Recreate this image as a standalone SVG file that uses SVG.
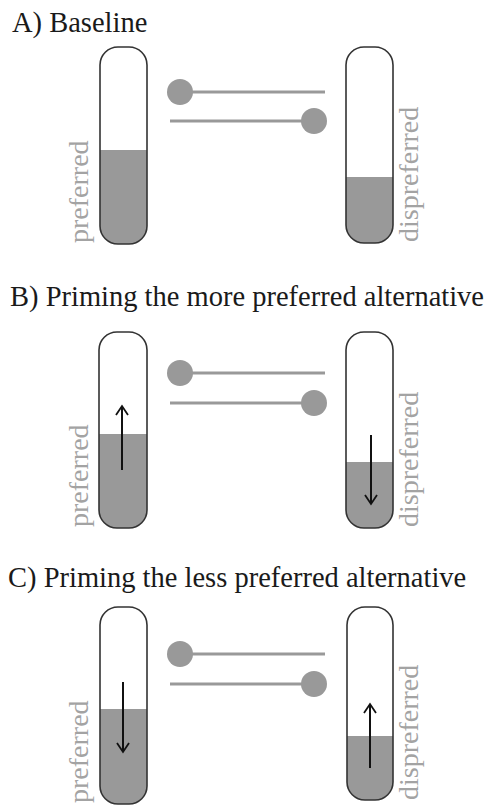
<svg xmlns="http://www.w3.org/2000/svg" width="490" height="806" viewBox="0 0 490 806">
<style>
.title{font-family:"Liberation Serif","Times New Roman",serif;font-size:28.5px;fill:#1a1a1a}
.lab{font-family:"Liberation Serif","Times New Roman",serif;font-size:28px;fill:#a3a3a3}
.tube{fill:none;stroke:#333;stroke-width:1.6}
.liq{fill:#999}
.wire{stroke:#999;stroke-width:3;fill:none}
.knob{fill:#999}
.arr{stroke:#111;stroke-width:2;fill:none;marker-end:url(#head)}
</style>
<defs>
<marker id="head" viewBox="0 0 12 14" refX="10" refY="7" markerWidth="12" markerHeight="14" markerUnits="userSpaceOnUse" orient="auto">
<path d="M1,1 L10,7 L1,13" fill="none" stroke="#111" stroke-width="1.8"/>
</marker>
<clipPath id="cA1"><rect x="100" y="47" width="47" height="197" rx="18"/></clipPath>
<clipPath id="cA2"><rect x="346" y="47" width="47" height="196" rx="18"/></clipPath>
<clipPath id="cB1"><rect x="99" y="332" width="48" height="196" rx="18"/></clipPath>
<clipPath id="cB2"><rect x="346" y="332" width="47" height="196" rx="18"/></clipPath>
<clipPath id="cC1"><rect x="100" y="607" width="47" height="197" rx="18"/></clipPath>
<clipPath id="cC2"><rect x="347" y="607" width="46" height="193" rx="18"/></clipPath>
</defs>
<rect width="490" height="806" fill="#fff"/>

<g id="panelA">
<text class="title" x="12" y="32">A) Baseline</text>
<g id="A-preferred">
<rect class="liq" x="100" y="150" width="47" height="94" clip-path="url(#cA1)"/>
<rect class="tube" x="100" y="47" width="47" height="197" rx="18"/>
<text class="lab" transform="translate(88,243) rotate(-90)">preferred</text>
</g>
<g id="A-dispreferred">
<rect class="liq" x="346" y="177" width="47" height="66" clip-path="url(#cA2)"/>
<rect class="tube" x="346" y="47" width="47" height="196" rx="18"/>
<text class="lab" transform="translate(418,242) rotate(-90)">dispreferred</text>
</g>
</g>

<g id="panelB">
<text class="title" x="10" y="306">B) Priming the more preferred alternative</text>
<g id="B-preferred">
<rect class="liq" x="99" y="434" width="48" height="94" clip-path="url(#cB1)"/>
<rect class="tube" x="99" y="332" width="48" height="196" rx="18"/>
<text class="lab" transform="translate(88,527) rotate(-90)">preferred</text>
</g>
<g id="B-dispreferred">
<rect class="liq" x="346" y="462" width="47" height="66" clip-path="url(#cB2)"/>
<rect class="tube" x="346" y="332" width="47" height="196" rx="18"/>
<text class="lab" transform="translate(418,527) rotate(-90)">dispreferred</text>
</g>
</g>

<g id="panelC">
<text class="title" x="8" y="587">C) Priming the less preferred alternative</text>
<g id="C-preferred">
<rect class="liq" x="100" y="709" width="47" height="95" clip-path="url(#cC1)"/>
<rect class="tube" x="100" y="607" width="47" height="197" rx="18"/>
<text class="lab" transform="translate(88,803) rotate(-90)">preferred</text>
</g>
<g id="C-dispreferred">
<rect class="liq" x="347" y="736" width="46" height="64" clip-path="url(#cC2)"/>
<rect class="tube" x="347" y="607" width="46" height="193" rx="18"/>
<text class="lab" transform="translate(418,800) rotate(-90)">dispreferred</text>
</g>
</g>

<g id="connectors">
<line class="wire" x1="180" y1="92" x2="325" y2="92"/>
<circle class="knob" cx="180" cy="92" r="13"/>
<line class="wire" x1="170" y1="121" x2="314" y2="121"/>
<circle class="knob" cx="314" cy="121" r="13"/>

<line class="wire" x1="180" y1="373" x2="325" y2="373"/>
<circle class="knob" cx="180" cy="373" r="13"/>
<line class="wire" x1="170" y1="403" x2="314" y2="403"/>
<circle class="knob" cx="314" cy="403" r="13"/>

<line class="wire" x1="180" y1="654" x2="325" y2="654"/>
<circle class="knob" cx="180" cy="654" r="13"/>
<line class="wire" x1="170" y1="684" x2="314" y2="684"/>
<circle class="knob" cx="314" cy="684" r="13"/>

<line class="arr" x1="122" y1="470" x2="122" y2="406"/>
<line class="arr" x1="371" y1="435" x2="371" y2="504"/>
<line class="arr" x1="123" y1="682" x2="123" y2="752"/>
<line class="arr" x1="370" y1="768" x2="370" y2="704"/>
</g>
</svg>
